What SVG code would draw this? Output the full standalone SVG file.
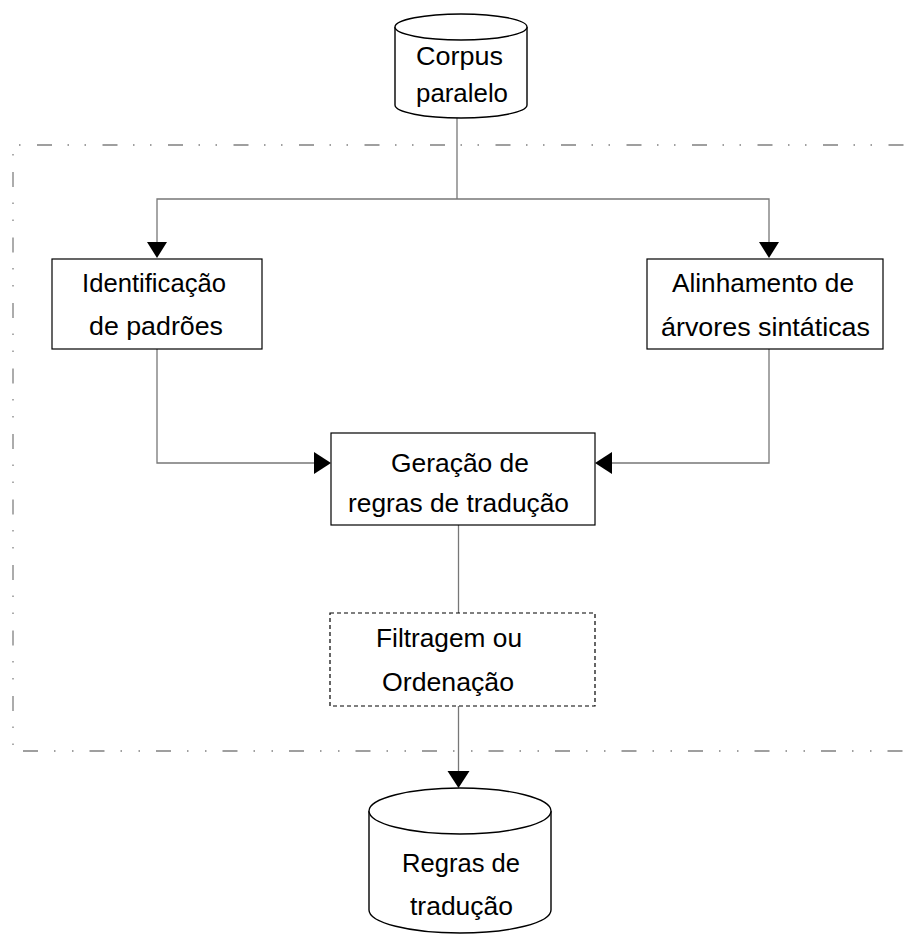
<svg xmlns="http://www.w3.org/2000/svg" width="908" height="935" viewBox="0 0 908 935">
  <defs>
    <style>
      .box { fill: #ffffff; stroke: #000000; stroke-width: 1.2; }
      .dashed { stroke-dasharray: 4 3; }
      .db { fill: #ffffff; stroke: #000000; stroke-width: 1.4; }
      .lbl { font-family: "Liberation Sans", Arial, sans-serif; font-size: 25px; fill: #000000; text-anchor: middle; }
      .wire { fill: none; stroke: #777777; stroke-width: 1.3; }
      .frame { fill: none; stroke: #808080; stroke-width: 1.3; }
      .fa { stroke-dasharray: 15 15.5 1.5 15.5 1.5 16.5; }
      .fb { stroke-dasharray: 15 16 1.5 16.5 1.5 16; }
      .head { fill: #000000; }
    </style>
  </defs>

  <!-- dash-dot boundary of the rule-generation stage -->
  <g id="boundary">
    <line class="frame fa" x1="13" y1="145" x2="930" y2="145" stroke-dashoffset="41.5"/>
    <line class="frame fa" x1="13" y1="145" x2="13" y2="751" stroke-dashoffset="38.5"/>
    <line class="frame fb" x1="13" y1="751" x2="930" y2="751" stroke-dashoffset="56.5"/>
  </g>

  <!-- connectors -->
  <g id="connectors">
    <path class="wire" d="M457 118 V199"/>
    <path class="wire" d="M157 242 V199 H769 V242"/>
    <polygon class="head" points="147,242 167,242 157,258"/>
    <polygon class="head" points="759,242 779,242 769,258"/>
    <path class="wire" d="M157 349 V463 H315"/>
    <polygon class="head" points="314,452 314,474 331,463"/>
    <path class="wire" d="M769 349 V463 H611"/>
    <polygon class="head" points="612,452 612,474 595,463"/>
    <path class="wire" d="M458.5 525 V613"/>
    <path class="wire" d="M458.5 706 V772"/>
    <polygon class="head" points="447.5,771 469.5,771 458.5,788"/>
  </g>

  <g id="corpus">
    <path class="db" d="M395 27 V105 A66 13 0 0 0 527 105 V27 A66 13 0 0 0 395 27 Z"/>
    <path class="db" fill="none" d="M395 27 A66 13 0 0 0 527 27"/>
    <text class="lbl" x="459.5" y="65" textLength="87" lengthAdjust="spacingAndGlyphs">Corpus</text>
    <text class="lbl" x="462" y="102" textLength="92" lengthAdjust="spacingAndGlyphs">paralelo</text>
  </g>

  <g id="identificacao">
    <rect class="box" x="52" y="259" width="210" height="90"/>
    <text class="lbl" x="154" y="292" textLength="144" lengthAdjust="spacingAndGlyphs">Identificação</text>
    <text class="lbl" x="156" y="335" textLength="134" lengthAdjust="spacingAndGlyphs">de padrões</text>
  </g>

  <g id="alinhamento">
    <rect class="box" x="647" y="259" width="236" height="90"/>
    <text class="lbl" x="763" y="292" textLength="182" lengthAdjust="spacingAndGlyphs">Alinhamento de</text>
    <text class="lbl" x="765.5" y="336" textLength="209" lengthAdjust="spacingAndGlyphs">árvores sintáticas</text>
  </g>

  <g id="geracao">
    <rect class="box" x="331" y="433" width="264" height="92"/>
    <text class="lbl" x="460" y="472" textLength="138" lengthAdjust="spacingAndGlyphs">Geração de</text>
    <text class="lbl" x="458.5" y="512" textLength="221" lengthAdjust="spacingAndGlyphs">regras de tradução</text>
  </g>

  <g id="filtragem">
    <rect class="box dashed" x="330" y="613" width="265" height="93"/>
    <text class="lbl" x="449" y="647" textLength="146" lengthAdjust="spacingAndGlyphs">Filtragem ou</text>
    <text class="lbl" x="448" y="691" textLength="132" lengthAdjust="spacingAndGlyphs">Ordenação</text>
  </g>

  <g id="regras">
    <path class="db" d="M369 811 V910 A91 23 0 0 0 551 910 V811 A91 23 0 0 0 369 811 Z"/>
    <path class="db" fill="none" d="M369 811 A91 23 0 0 0 551 811"/>
    <text class="lbl" x="461" y="872" textLength="118" lengthAdjust="spacingAndGlyphs">Regras de</text>
    <text class="lbl" x="461.5" y="915" textLength="103" lengthAdjust="spacingAndGlyphs">tradução</text>
  </g>
</svg>
